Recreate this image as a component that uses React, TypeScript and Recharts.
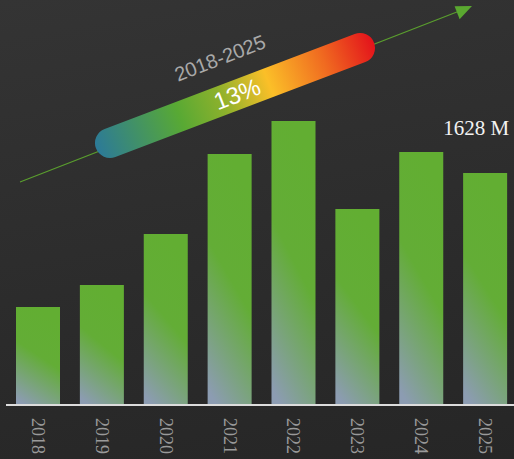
import { BarChart, Bar, XAxis, YAxis } from "recharts";

const years = ["2018", "2019", "2020", "2021", "2022", "2023", "2024", "2025"];
const revenue = [688, 842, 1200, 1761, 1993, 1375, 1775, 1628];
const rangeLabel = "2018-2025";
const growthLabel = "13%";
const unit = "M";

const data = years.map((year, i) => ({ year, value: revenue[i] }));

const W = 514;
const H = 459;

function YearTick(props: any) {
  const { x, y, payload } = props;
  return (
    <text
      transform={`translate(${x},${y}) rotate(90)`}
      textAnchor="start"
      dominantBaseline="central"
      fontFamily="'Liberation Serif', serif"
      fontSize={18}
      fill="#9a9a9a"
    >
      {payload.value}
    </text>
  );
}

function LastLabel(props: any) {
  const { x, y, width, value, index } = props;
  if (index !== data.length - 1) return null;
  return (
    <text
      x={x + width / 2 - 9}
      y={y - 38}
      textAnchor="middle"
      fontFamily="'Liberation Serif', serif"
      fontSize={21}
      fill="#f2f2f2"
    >
      {`${value} ${unit}`}
    </text>
  );
}

export default function App() {
  return (
    <div
      style={{
        position: "absolute",
        left: 0,
        top: 0,
        width: W,
        height: H,
        overflow: "hidden",
        background: "linear-gradient(170deg, #343434 0%, #2c2c2c 55%, #262626 100%)",
      }}
    >
      <BarChart
        width={517}
        height={H}
        data={data}
        margin={{ top: 120, right: 0, left: 6, bottom: 0 }}
      >
        <defs>
          <linearGradient id="barFill" x1="0.5" y1="0" x2="0.2" y2="1">
            <stop offset="0%" stopColor="#62ae32" />
            <stop offset="45%" stopColor="#63ad36" />
            <stop offset="100%" stopColor="#8c9cb2" />
          </linearGradient>
        </defs>
        <XAxis
          dataKey="year"
          tick={<YearTick />}
          tickLine={false}
          tickSize={0}
          tickMargin={13}
          height={54}
          interval={0}
          axisLine={{ stroke: "#dcdcdc", strokeWidth: 2 }}
        />
        <YAxis hide domain={[0, 2000]} />
        <Bar
          dataKey="value"
          fill="url(#barFill)"
          barSize={44}
          isAnimationActive={false}
          label={<LastLabel />}
        />
      </BarChart>
      <svg
        width={W}
        height={H}
        style={{ position: "absolute", left: 0, top: 0, pointerEvents: "none" }}
      >
        <defs>
          <linearGradient
            id="pillFill"
            gradientUnits="userSpaceOnUse"
            x1={96}
            y1={148}
            x2={374}
            y2={42}
          >
            <stop offset="0%" stopColor="#2c7a98" />
            <stop offset="30%" stopColor="#58a934" />
            <stop offset="45%" stopColor="#8cb12c" />
            <stop offset="62%" stopColor="#fbbf28" />
            <stop offset="82%" stopColor="#f06a20" />
            <stop offset="100%" stopColor="#e3121b" />
          </linearGradient>
        </defs>
        <line x1={20} y1={182} x2={462} y2={10} stroke="#5a9e2e" strokeWidth={1.2} />
        <polygon points="472,6 454.6,6.3 459.6,19.3" fill="#5aa830" />
        <line
          x1={110}
          y1={143}
          x2={360}
          y2={48}
          stroke="url(#pillFill)"
          strokeWidth={30}
          strokeLinecap="round"
        />
        <text
          transform="translate(220,58) rotate(-21.2)"
          textAnchor="middle"
          dominantBaseline="central"
          fontFamily="'Liberation Sans', Arial, sans-serif"
          fontSize={20}
          fill="#a9a9a9"
        >
          {rangeLabel}
        </text>
        <text
          transform="translate(237,94) rotate(-21.2)"
          textAnchor="middle"
          dominantBaseline="central"
          fontFamily="'Liberation Sans', Arial, sans-serif"
          fontSize={24}
          fill="#ffffff"
        >
          {growthLabel}
        </text>
      </svg>
    </div>
  );
}
